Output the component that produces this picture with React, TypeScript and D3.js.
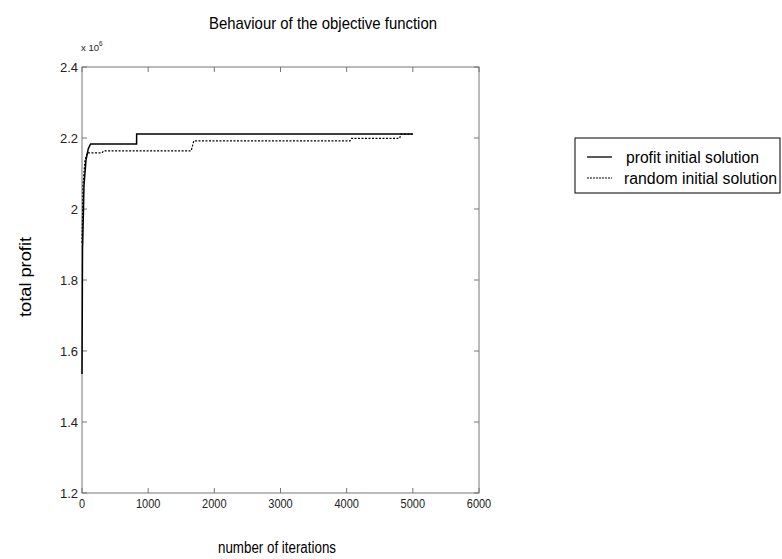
import React from "react";
import * as d3 from "d3";

const xTicks = [0, 1000, 2000, 3000, 4000, 5000, 6000];
const yTicks = [1.2, 1.4, 1.6, 1.8, 2.0, 2.2, 2.4];
const yTickLabels = ["1.2", "1.4", "1.6", "1.8", "2", "2.2", "2.4"];

const profitIter = [0, 8, 10, 20, 30, 60, 95, 130, 825, 826, 5000];
const profitVal = [1.535, 1.897, 1.9, 1.98, 2.067, 2.137, 2.17, 2.183, 2.183, 2.211, 2.211];

const randomIter = [0, 10, 15, 45, 80, 300, 330, 1650, 1690, 4050, 4070, 4800, 4820, 5000];
const randomVal = [1.905, 2.0, 2.067, 2.137, 2.158, 2.158, 2.164, 2.164, 2.192, 2.192, 2.199, 2.199, 2.211, 2.211];

const seriesNames = ["profit initial solution", "random initial solution"];

const FONT = "'Liberation Sans Narrow', 'Liberation Sans', Arial, sans-serif";

export default function App() {
  const W = 782, H = 559;
  const left = 82, right = 479, top = 67, bottom = 493;
  const x = d3.scaleLinear().domain([0, 6000]).range([left, right]);
  const y = d3.scaleLinear().domain([1.2, 2.4]).range([bottom, top]);
  const line = d3.line<[number, number]>().x(d => x(d[0])).y(d => y(d[1]));
  const p1 = line(profitIter.map((v, i) => [v, profitVal[i]] as [number, number])) || "";
  const p2 = line(randomIter.map((v, i) => [v, randomVal[i]] as [number, number])) || "";
  const tl = 5;
  const axisColor = "#777";
  return (
    <svg width={W} height={H} style={{ position: "absolute", left: 0, top: 0, background: "#fff" }} fontFamily={FONT}>
      <rect x={0} y={0} width={W} height={H} fill="#fff" />
      <text x={209} y={29} fontSize={17} textLength={228} lengthAdjust="spacingAndGlyphs" fill="#000">Behaviour of the objective function</text>
      <rect x={left} y={top} width={right - left} height={bottom - top} fill="none" stroke={axisColor} strokeWidth={1} />
      {xTicks.map(t => (
        <g key={"x" + t}>
          <line x1={x(t)} x2={x(t)} y1={bottom} y2={bottom - tl} stroke={axisColor} />
          <line x1={x(t)} x2={x(t)} y1={top} y2={top + tl} stroke={axisColor} />
          <text x={x(t)} y={bottom + 15} fontSize={12.5} textAnchor="middle" fill="#222" transform={`translate(${x(t) * 0.12},0) scale(0.88,1)`}>{t}</text>
        </g>
      ))}
      {yTicks.map((t, i) => (
        <g key={"y" + t}>
          <line x1={left} x2={left + tl} y1={y(t)} y2={y(t)} stroke={axisColor} />
          <line x1={right} x2={right - tl} y1={y(t)} y2={y(t)} stroke={axisColor} />
          <text x={left - 4} y={y(t) + 5} fontSize={13} textAnchor="end" fill="#222">{yTickLabels[i]}</text>
        </g>
      ))}
      <text x={81} y={51} fontSize={9.5} textAnchor="start" fill="#222">x 10</text>
      <text x={99} y={46} fontSize={6.5} textAnchor="start" fill="#222">6</text>
      <path d={p2} fill="none" stroke="#000" strokeWidth={1.2} strokeDasharray="2,1.5" />
      <path d={p1} fill="none" stroke="#000" strokeWidth={1.5} />
      <text x={218} y={553} fontSize={16} textLength={118} lengthAdjust="spacingAndGlyphs" fill="#000">number of iterations</text>
      <text transform="translate(31,317) rotate(-90)" fontSize={16} textLength={80} lengthAdjust="spacingAndGlyphs" fill="#000">total profit</text>
      <rect x={575} y={138} width={205} height={55} fill="#fff" stroke="#000" strokeWidth={1} />
      <line x1={587} x2={612} y1={157} y2={157} stroke="#000" strokeWidth={1.3} />
      <line x1={587} x2={612} y1={178} y2={178} stroke="#000" strokeWidth={1} strokeDasharray="2,1" />
      <text x={626} y={163} fontSize={16} textLength={133} lengthAdjust="spacingAndGlyphs" fill="#000">{seriesNames[0]}</text>
      <text x={624} y={184} fontSize={16} textLength={153} lengthAdjust="spacingAndGlyphs" fill="#000">{seriesNames[1]}</text>
    </svg>
  );
}
